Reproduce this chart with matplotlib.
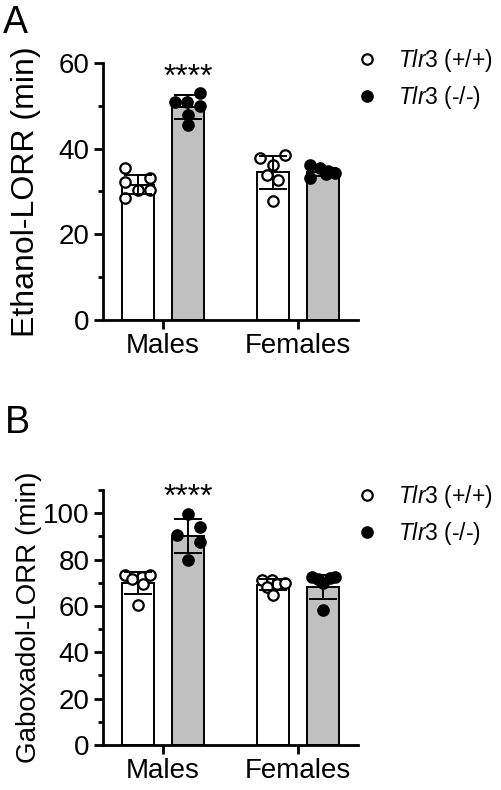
import numpy as np
import matplotlib
matplotlib.use("Agg")
from matplotlib import pyplot as plt
from matplotlib.lines import Line2D
from matplotlib.ticker import MultipleLocator

plt.rcParams["font.family"] = ["Liberation Sans", "DejaVu Sans"]
plt.rcParams["mathtext.fontset"] = "custom"
plt.rcParams["mathtext.it"] = "Liberation Sans:italic"
plt.rcParams["mathtext.rm"] = "Liberation Sans"

groups = ["Males", "Females"]
genotypes = [r"$\mathit{Tlr3}$ (+/+)", r"$\mathit{Tlr3}$ (-/-)"]

# panel A: ethanol LORR (min), individual animals
eth_m_wt = [35.5, 32.3, 28.4, 30.4, 33.1, 30.4]
eth_m_ko = [51.0, 51.0, 53.0, 49.9, 47.9, 45.6]
eth_f_wt = [37.8, 36.2, 38.6, 33.9, 32.7, 27.7]
eth_f_ko = [36.2, 35.5, 34.7, 34.3, 33.1, 34.0]
eth_mean = [[31.6, 49.7], [34.5, 34.6]]   # [group][genotype]
eth_sd = [[2.3, 2.8], [3.9, 1.0]]

# panel B: gaboxadol LORR (min)
gab_m_wt = [73.2, 72.4, 73.2, 71.8, 69.6, 60.3]
gab_m_ko = [99.7, 94.0, 90.4, 87.5, 79.6]
gab_f_wt = [71.3, 71.3, 69.6, 69.9, 68.1, 64.6]
gab_f_ko = [72.5, 71.8, 72.0, 72.5, 70.0, 58.1]
gab_mean = [[69.8, 90.2], [69.1, 68.3]]
gab_sd = [[4.8, 7.5], [2.4, 5.2]]

# horizontal scatter of the dots inside each bar (px from bar centre)
jit_eth = [[-13, -13, -13, 0, 12, 12], [-13, -1, 12, 12, 0, 0],
           [-13, 0, 12, -6, 5, 0], [-13, -3, 5, 12, -13, 3]]
jit_gab = [[-13, 4, 12, -6, 5, 0], [0, 12, -11, 12, 0],
           [-11, -1, 4, 12, -6, 0], [-11, -5, 7, 12, 0, 0]]

PX = 1 / 135.0
OFF = 25 * PX
BW = 32 * PX
bar_colors = ["white", "#c0c0c0"]
face_colors = ["white", "black"]


def draw_panel(ax, pts, jit, means, sds, ylim, ylabel, label_size, label_x,
               star_y, leg_y):
    k = 0
    for g in range(2):
        for t in range(2):
            xc = g + (2 * t - 1) * OFF
            ax.bar(xc, means[g][t], width=BW, color=bar_colors[t],
                   edgecolor="black", linewidth=1.4, zorder=1)
            xs = xc + np.array(jit[k]) * PX
            ax.plot(xs, pts[k], "o", ms=7.5, mfc=face_colors[t], mec="black",
                    mew=1.6, zorder=2, clip_on=False)
            ax.errorbar(xc, means[g][t], yerr=sds[g][t], fmt="none",
                        ecolor="black", elinewidth=1.4, capsize=10,
                        capthick=1.4, zorder=3)
            k += 1
    ax.text(1 * OFF, star_y, "****", ha="center", va="center", fontsize=23)

    ax.set_xlim(-0.444, 1.444)
    ax.set_ylim(*ylim)
    ax.set_xticks([0, 1])
    ax.set_xticklabels(groups)
    ax.yaxis.set_major_locator(MultipleLocator(20))
    ax.yaxis.set_minor_locator(MultipleLocator(10))
    ax.spines["top"].set_visible(False)
    ax.spines["right"].set_visible(False)
    for s in ["left", "bottom"]:
        ax.spines[s].set_linewidth(2)
    ax.tick_params(axis="both", which="major", labelsize=20, width=2,
                   length=6.5, pad=3)
    ax.tick_params(axis="y", which="minor", width=2, length=3.5)
    ax.set_ylabel(ylabel, fontsize=label_size)
    ax.yaxis.set_label_coords(label_x, 0.5)

    handles = [Line2D([], [], ls="none", marker="o", ms=7.5, mfc=face_colors[t],
                      mec="black", mew=1.6) for t in range(2)]
    ax.legend(handles, genotypes, loc="upper left", bbox_to_anchor=(0.91, leg_y),
              frameon=False, fontsize=16.5, handletextpad=0.85,
              labelspacing=0.45, handlelength=1.0)


fig = plt.figure(figsize=(5.02, 7.9), dpi=100)
axA = fig.add_axes([103 / 502, 1 - 320 / 790, 255 / 502, 257 / 790])
axB = fig.add_axes([103 / 502, 1 - 745 / 790, 255 / 502, 255 / 790])

draw_panel(axA, [eth_m_wt, eth_m_ko, eth_f_wt, eth_f_ko], jit_eth,
           eth_mean, eth_sd, (0, 60), "Ethanol-LORR (min)", 23, -0.245,
           56.6, 1.144)
draw_panel(axB, [gab_m_wt, gab_m_ko, gab_f_wt, gab_f_ko], jit_gab,
           gab_mean, gab_sd, (0, 110), "Gaboxadol-LORR (min)", 20, -0.239,
           106.5, 1.11)

fig.text(3 / 502, 1 - 5 / 790, "A", fontsize=27, va="top", ha="left")
fig.text(5 / 502, 1 - 405 / 790, "B", fontsize=27, va="top", ha="left")

fig.savefig("out.png", dpi=100)
